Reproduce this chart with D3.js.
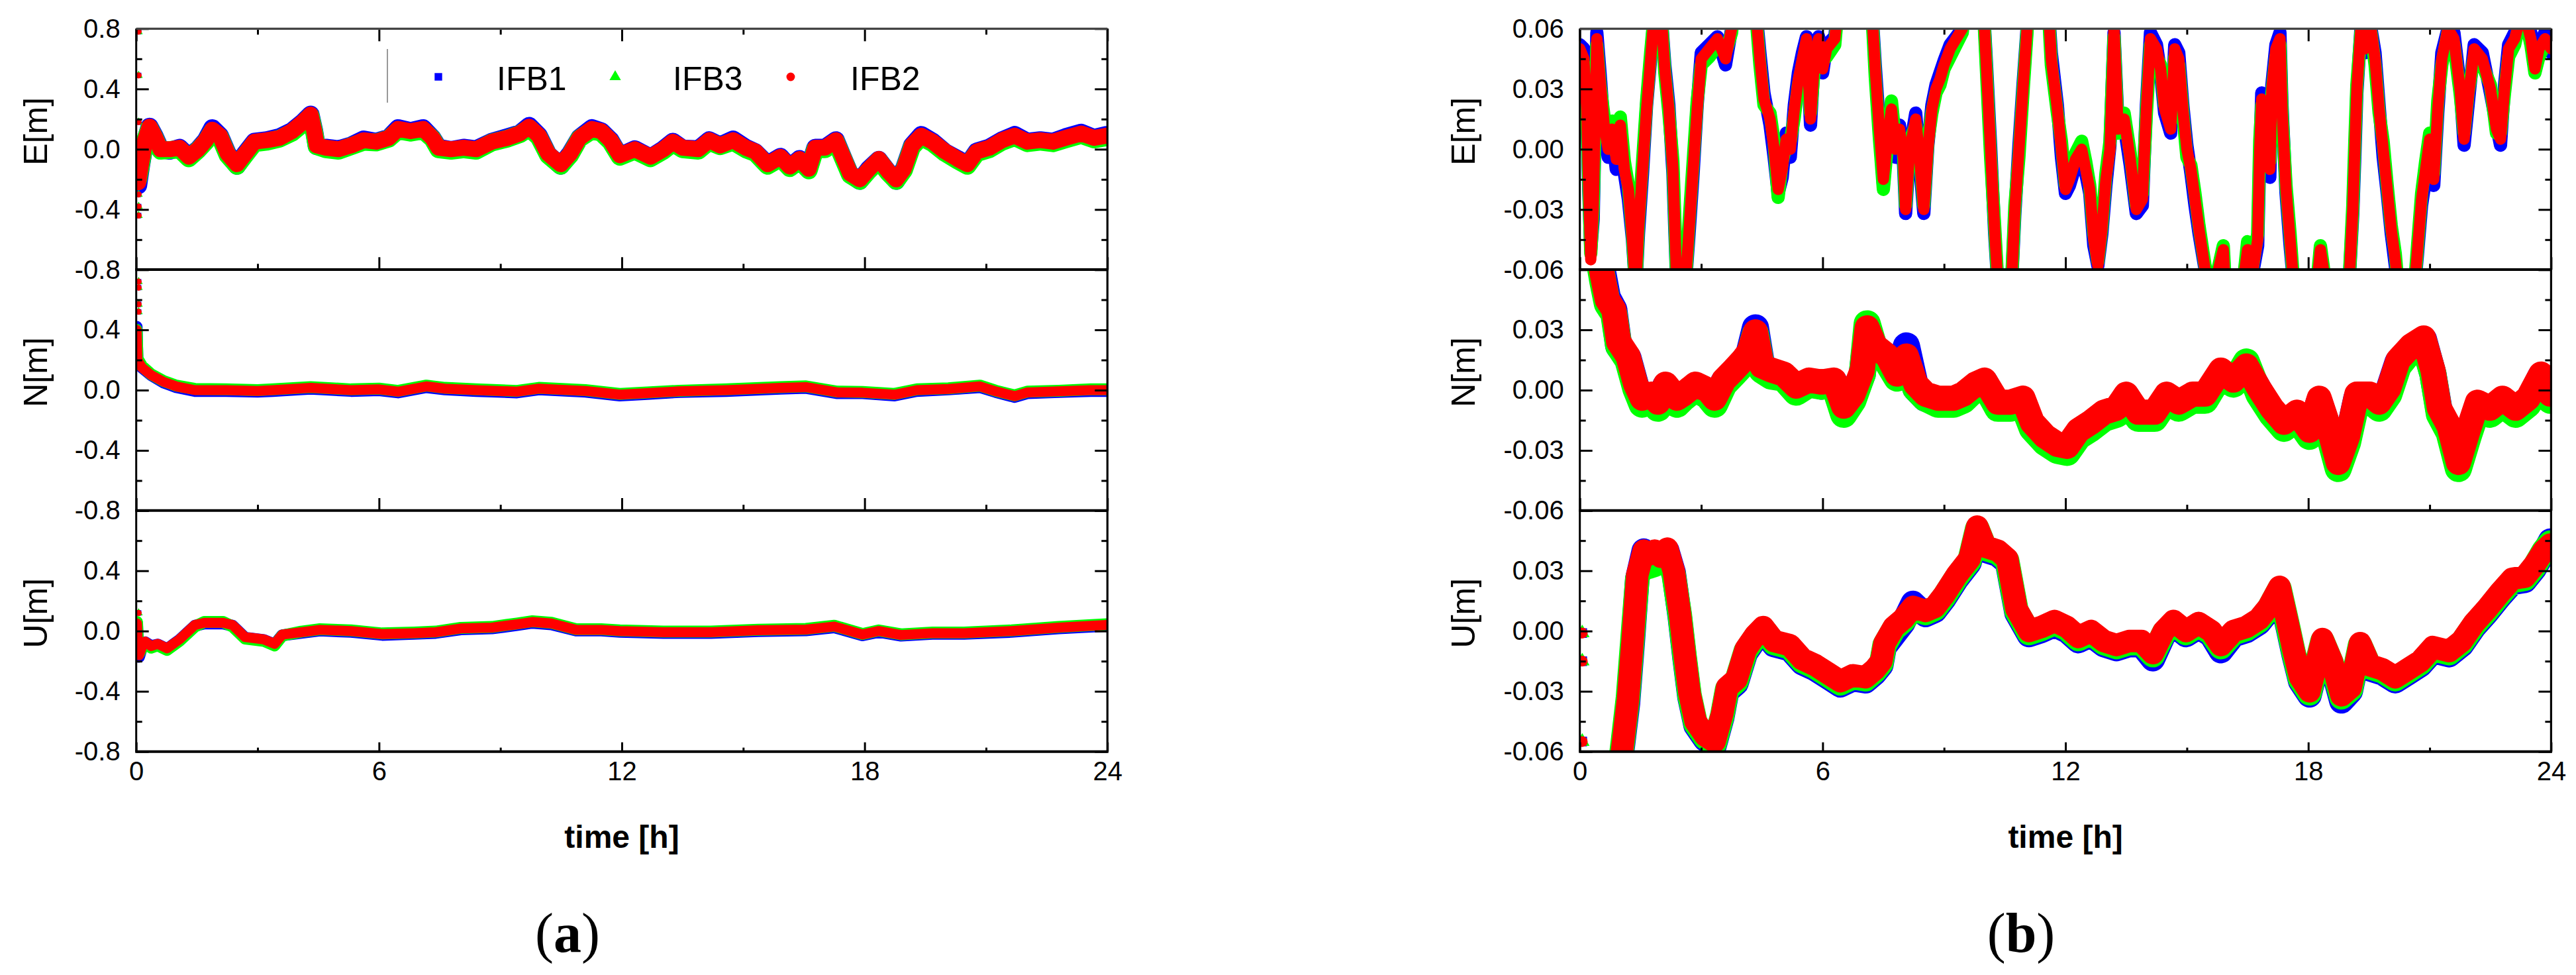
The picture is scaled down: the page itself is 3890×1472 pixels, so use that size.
<!DOCTYPE html>
<html><head><meta charset="utf-8">
<script src="https://cdn.jsdelivr.net/npm/d3@7"></script>
<style>html,body{margin:0;padding:0;background:#fff;overflow:hidden}</style>
</head><body>
<svg id="chart" width="3890" height="1472" xmlns="http://www.w3.org/2000/svg"></svg>
<script>
// ---------------- categories / ticks ----------------
const seriesNames = ["IFB1", "IFB3", "IFB2"];
const seriesColors = ["#0000ff", "#00ff00", "#ff0000"];
const compTitles = ["E[m]", "N[m]", "U[m]"];
const xMajorTicks = [0, 6, 12, 18, 24];
const xMinorTicks = [3, 9, 15, 21];
const aYTicks = [-0.8, -0.4, 0, 0.4, 0.8];
const aYMinor = [-0.6, -0.2, 0.2, 0.6];
const bYTicks = [-0.06, -0.03, 0, 0.03, 0.06];
const bYMinor = [-0.045, -0.015, 0.015, 0.045];
const panelLabels = ["a", "b"];
const xTitle = "time [h]";

// ---------------- (a) E ----------------
const aE_t = [
 0.05,0.12,0.22,0.33,0.45,0.6,0.83,1.07,1.3,1.53,
 1.72,1.88,2.07,2.26,2.49,2.69,2.92,3.23,3.54,3.85,
 4.12,4.31,4.4,4.46,4.69,5.0,5.31,5.62,5.93,6.24,
 6.47,6.78,7.09,7.32,7.47,7.78,8.09,8.4,8.79,9.17,
 9.48,9.71,9.95,10.18,10.49,10.72,10.95,11.26,11.49,11.72,
 11.95,12.32,12.71,13.03,13.26,13.5,13.89,14.16,14.43,14.75,
 15.06,15.3,15.6,15.92,16.15,16.39,16.62,16.78,17.02,17.29,
 17.49,17.64,17.88,18.11,18.35,18.58,18.78,18.97,19.17,19.4,
 19.68,19.99,20.3,20.54,20.77,21.08,21.4,21.71,22.02,22.34,
 22.65,22.96,23.35,23.67,23.98];
const aE_IFB2 = [
 -0.22,-0.1,0.06,0.15,0.09,0.0,0.0,0.01,-0.05,0.0,
 0.06,0.13,0.09,-0.03,-0.1,-0.03,0.05,0.06,0.075,0.12,
 0.18,0.23,0.12,0.025,0.01,0.0,0.025,0.06,0.05,0.075,
 0.135,0.12,0.135,0.075,0.01,0.0,0.01,0.0,0.05,0.075,
 0.105,0.15,0.09,-0.03,-0.1,-0.03,0.075,0.135,0.12,0.06,
 -0.04,0.0,-0.05,0.0,0.05,0.01,0.0,0.06,0.025,0.06,
 0.01,-0.015,-0.1,-0.05,-0.115,-0.065,-0.13,0.01,0.01,0.06,
 -0.065,-0.16,-0.2,-0.13,-0.065,-0.145,-0.2,-0.13,0.025,0.09,
 0.05,-0.015,-0.065,-0.1,-0.015,0.01,0.06,0.09,0.05,0.06,
 0.05,0.075,0.105,0.075,0.09];
const aE_IFB1 = [
 -0.24,-0.11,0.05,0.15,0.09,0.0,-0.01,0.01,-0.05,0.0,
 0.06,0.14,0.09,-0.03,-0.11,-0.03,0.05,0.06,0.08,0.12,
 0.18,0.23,0.12,0.02,0.01,0.0,0.025,0.065,0.05,0.075,
 0.14,0.12,0.14,0.075,0.01,-0.005,0.01,0.0,0.05,0.08,
 0.105,0.155,0.09,-0.035,-0.11,-0.03,0.075,0.14,0.12,0.06,
 -0.045,0.0,-0.055,0.0,0.05,0.005,0.0,0.06,0.025,0.065,
 0.01,-0.02,-0.1,-0.05,-0.12,-0.065,-0.13,0.01,0.01,0.06,
 -0.07,-0.165,-0.21,-0.13,-0.07,-0.15,-0.21,-0.13,0.025,0.095,
 0.05,-0.02,-0.065,-0.105,-0.015,0.01,0.06,0.095,0.05,0.06,
 0.05,0.08,0.11,0.075,0.095];
const aE_IFB3 = [
 -0.2,-0.1,0.06,0.14,0.08,-0.01,-0.005,0.0,-0.06,-0.005,
 0.05,0.12,0.08,-0.04,-0.11,-0.04,0.04,0.05,0.07,0.11,
 0.17,0.22,0.11,0.02,0.0,-0.01,0.02,0.05,0.045,0.07,
 0.125,0.11,0.125,0.07,0.0,-0.01,0.0,-0.01,0.045,0.07,
 0.1,0.14,0.08,-0.04,-0.11,-0.04,0.07,0.125,0.11,0.05,
 -0.05,-0.01,-0.06,-0.01,0.04,0.0,-0.01,0.05,0.02,0.05,
 0.0,-0.025,-0.11,-0.06,-0.125,-0.075,-0.14,0.0,0.0,0.05,
 -0.075,-0.17,-0.21,-0.14,-0.075,-0.155,-0.21,-0.14,0.015,0.08,
 0.04,-0.025,-0.075,-0.11,-0.025,0.0,0.05,0.08,0.04,0.05,
 0.04,0.065,0.095,0.065,0.08];
const aE_start = [0.78, 0.49, 0.18, -0.3, -0.38, -0.44];

// ---------------- (a) N ----------------
const aN_t = [
 0.01,0.03,0.14,0.37,0.68,0.99,1.45,2.22,3.0,3.38,
 4.31,5.31,6.0,6.47,7.17,7.63,8.4,9.41,9.95,11.1,
 11.95,12.63,13.42,14.59,15.92,16.55,17.33,17.95,18.74,19.29,
 20.07,20.85,21.24,21.71,22.02,22.8,23.59,23.98];
const aN_IFB2 = [
 0.4,0.2,0.15,0.1,0.055,0.025,0.0,0.0,-0.005,0.0,
 0.015,0.0,0.005,-0.01,0.025,0.01,0.0,-0.01,0.01,-0.005,
 -0.03,-0.02,-0.008,0.0,0.015,0.02,-0.015,-0.017,-0.03,0.0,
 0.008,0.025,-0.008,-0.04,-0.015,-0.008,0.0,0.0];
const aN_IFB1 = [
 0.42,0.2,0.15,0.1,0.05,0.02,-0.005,-0.005,-0.01,-0.005,
 0.01,-0.005,0.0,-0.015,0.02,0.005,-0.005,-0.015,0.005,-0.01,
 -0.035,-0.025,-0.012,-0.005,0.01,0.015,-0.02,-0.02,-0.035,-0.005,
 0.005,0.02,-0.012,-0.045,-0.02,-0.012,-0.005,-0.005];
const aN_IFB3 = [
 0.4,0.21,0.16,0.105,0.06,0.03,0.008,0.005,0.0,0.005,
 0.02,0.005,0.01,-0.005,0.03,0.015,0.005,-0.005,0.015,0.0,
 -0.025,-0.015,-0.004,0.005,0.02,0.025,-0.01,-0.012,-0.025,0.005,
 0.012,0.03,-0.004,-0.035,-0.01,-0.004,0.005,0.005];
const aN_start = [0.72, 0.68, 0.57, 0.52];

// ---------------- (a) U ----------------
const aU_t = [
 0.02,0.04,0.07,0.15,0.22,0.37,0.53,0.76,1.07,1.45,
 1.68,2.15,2.38,2.69,3.15,3.42,3.61,4.08,4.54,5.31,
 6.08,6.86,7.4,8.02,8.79,9.41,9.79,10.26,10.87,11.49,
 11.95,13.03,14.2,15.37,16.55,17.25,17.95,18.35,18.9,19.68,
 20.46,21.63,22.8,23.98];
const aU_IFB2 = [
 0.05,-0.08,-0.16,-0.1,-0.07,-0.1,-0.085,-0.115,-0.055,0.04,
 0.055,0.055,0.04,-0.04,-0.055,-0.085,-0.023,-0.008,0.008,0.0,
 -0.02,-0.014,-0.008,0.017,0.023,0.045,0.06,0.05,0.008,0.008,
 0.0,-0.008,-0.008,0.005,0.01,0.03,-0.023,0.0,-0.026,-0.014,
 -0.014,0.0,0.023,0.04];
const aU_IFB1 = [
 0.05,-0.09,-0.17,-0.1,-0.075,-0.1,-0.09,-0.12,-0.06,0.035,
 0.05,0.05,0.035,-0.045,-0.06,-0.09,-0.028,-0.012,0.004,-0.005,
 -0.025,-0.018,-0.012,0.012,0.018,0.04,0.055,0.045,0.004,0.004,
 -0.005,-0.012,-0.012,0.0,0.005,0.025,-0.028,-0.005,-0.03,-0.018,
 -0.018,-0.005,0.018,0.035];
const aU_IFB3 = [
 0.06,-0.08,-0.15,-0.11,-0.08,-0.11,-0.095,-0.125,-0.065,0.03,
 0.06,0.06,0.03,-0.05,-0.065,-0.095,-0.03,-0.004,0.012,0.004,
 -0.016,-0.01,-0.004,0.021,0.027,0.05,0.065,0.055,0.012,0.012,
 0.004,-0.004,-0.004,0.009,0.014,0.035,-0.02,0.004,-0.022,-0.01,
 -0.01,0.004,0.027,0.045];
const aU_start = [0.12, 0.02];

// ---------------- (b) E ----------------
const bE_t = [
 0.0,0.1,0.17,0.22,0.27,0.33,0.42,0.5,0.6,0.7,
 0.8,0.9,1.0,1.1,1.2,1.3,1.38,1.45,1.55,1.65,
 1.75,1.85,2.0,2.1,2.2,2.3,2.35,2.4,2.6,2.7,
 2.8,2.9,3.0,3.2,3.4,3.6,3.75,3.85,4.3,4.45,
 4.55,4.7,4.8,4.9,5.0,5.1,5.2,5.3,5.4,5.5,
 5.6,5.7,5.8,5.9,6.0,6.1,6.3,6.4,7.2,7.3,
 7.4,7.5,7.6,7.7,7.8,7.9,8.0,8.05,8.15,8.3,
 8.4,8.5,8.6,8.7,8.8,8.9,9.0,9.15,9.3,9.45,
 9.55,9.95,10.05,10.15,10.25,10.35,10.65,10.75,10.85,10.95,
 11.05,11.1,11.55,11.65,11.8,11.9,12.0,12.1,12.25,12.4,
 12.5,12.6,12.7,12.8,12.9,13.0,13.1,13.2,13.3,13.45,
 13.6,13.75,13.9,14.0,14.1,14.25,14.35,14.45,14.6,14.7,
 14.8,14.9,15.0,15.1,15.2,15.3,15.45,15.6,15.9,15.95,
 16.4,16.5,16.55,16.75,16.8,16.85,16.95,17.05,17.1,17.2,
 17.3,17.35,17.45,17.55,17.65,18.2,18.3,18.45,19.0,19.1,
 19.15,19.2,19.3,19.4,19.55,19.65,19.75,19.85,19.95,20.05,
 20.15,20.25,20.6,20.7,20.8,20.9,21.0,21.1,21.2,21.3,
 21.45,21.6,21.75,21.85,21.95,22.1,22.3,22.5,22.65,22.75,
 22.85,22.95,23.1,23.3,23.5,23.6,23.7,23.85,24.0];
const bE_IFB2 = [
 0.05,0.045,0.02,-0.02,-0.055,-0.03,0.055,0.035,0.012,0.0,
 0.01,-0.005,0.012,-0.01,-0.02,-0.045,-0.07,-0.04,-0.01,0.02,
 0.045,0.07,0.07,0.04,0.02,-0.01,-0.04,-0.07,-0.07,-0.04,
 -0.01,0.02,0.045,0.05,0.055,0.045,0.06,0.08,0.08,0.045,
 0.025,0.015,0.0,-0.02,-0.01,0.005,0.0,0.02,0.035,0.045,
 0.055,0.015,0.045,0.055,0.04,0.05,0.055,0.075,0.075,0.04,
 0.01,-0.015,0.005,0.02,0.0,0.01,-0.005,-0.03,0.0,0.015,
 -0.005,-0.03,0.0,0.02,0.03,0.035,0.042,0.05,0.055,0.06,
 0.08,0.08,0.04,0.0,-0.04,-0.075,-0.075,-0.03,0.0,0.03,
 0.06,0.08,0.08,0.045,0.02,0.0,-0.02,-0.015,-0.005,0.0,
 -0.01,-0.02,-0.045,-0.058,-0.04,-0.015,0.0,0.06,0.01,0.015,
 -0.005,-0.03,-0.025,0.02,0.055,0.05,0.04,0.02,0.01,0.05,
 0.045,0.02,0.0,-0.01,-0.025,-0.04,-0.06,-0.075,-0.05,-0.07,
 -0.065,-0.05,-0.07,-0.045,0.0,0.025,0.01,-0.01,0.03,0.05,
 0.055,0.02,-0.02,-0.045,-0.07,-0.07,-0.05,-0.07,-0.07,-0.03,
 0.0,0.03,0.06,0.05,0.06,0.045,0.02,0.0,-0.02,-0.04,
 -0.055,-0.075,-0.075,-0.05,-0.025,-0.01,0.005,-0.015,0.02,0.045,
 0.06,0.055,0.03,0.005,0.025,0.05,0.045,0.03,0.01,0.005,
 0.03,0.05,0.055,0.07,0.055,0.04,0.05,0.055,0.05];
const bE_IFB1 = [
 0.052,0.05,0.02,-0.02,-0.05,-0.035,0.058,0.038,0.01,-0.004,
 0.008,-0.01,0.01,-0.012,-0.025,-0.045,-0.07,-0.042,-0.012,0.022,
 0.045,0.07,0.07,0.042,0.022,-0.012,-0.042,-0.07,-0.07,-0.042,
 -0.012,0.022,0.048,0.052,0.056,0.042,0.06,0.08,0.08,0.048,
 0.028,0.012,-0.004,-0.022,-0.014,0.008,-0.004,0.022,0.038,0.048,
 0.056,0.012,0.048,0.056,0.038,0.052,0.056,0.075,0.075,0.042,
 0.012,-0.018,0.008,0.018,-0.004,0.012,-0.008,-0.032,0.0,0.018,
 -0.008,-0.032,0.002,0.022,0.032,0.038,0.044,0.052,0.056,0.06,
 0.08,0.08,0.042,0.002,-0.042,-0.075,-0.075,-0.032,0.002,0.032,
 0.06,0.08,0.08,0.048,0.022,-0.004,-0.022,-0.018,-0.008,-0.004,
 -0.012,-0.022,-0.048,-0.058,-0.042,-0.018,0.002,0.058,0.012,0.012,
 -0.008,-0.032,-0.028,0.022,0.058,0.052,0.038,0.018,0.008,0.052,
 0.048,0.022,0.002,-0.012,-0.028,-0.042,-0.06,-0.075,-0.052,-0.07,
 -0.065,-0.052,-0.07,-0.048,-0.004,0.028,0.012,-0.014,0.032,0.052,
 0.058,0.022,-0.022,-0.048,-0.07,-0.07,-0.052,-0.07,-0.07,-0.032,
 -0.004,0.028,0.06,0.048,0.06,0.048,0.022,-0.004,-0.022,-0.042,
 -0.058,-0.075,-0.075,-0.052,-0.028,-0.014,0.002,-0.018,0.018,0.048,
 0.06,0.058,0.032,0.002,0.022,0.052,0.048,0.028,0.012,0.002,
 0.032,0.052,0.058,0.07,0.058,0.042,0.052,0.058,0.048];
const bE_IFB3 = [
 0.048,0.042,0.024,-0.016,-0.052,-0.028,0.052,0.032,0.016,0.004,
 0.014,-0.002,0.016,-0.006,-0.018,-0.042,-0.07,-0.036,-0.006,0.024,
 0.048,0.07,0.07,0.038,0.018,-0.006,-0.036,-0.07,-0.07,-0.036,
 -0.006,0.024,0.042,0.046,0.052,0.048,0.058,0.08,0.08,0.042,
 0.022,0.018,0.004,-0.024,-0.006,0.002,0.004,0.016,0.032,0.042,
 0.052,0.018,0.042,0.052,0.044,0.046,0.052,0.075,0.075,0.036,
 0.006,-0.02,0.002,0.024,0.004,0.006,-0.002,-0.028,0.004,0.012,
 -0.002,-0.028,0.004,0.018,0.028,0.032,0.04,0.046,0.052,0.058,
 0.08,0.08,0.038,-0.004,-0.038,-0.075,-0.075,-0.028,-0.004,0.028,
 0.058,0.08,0.08,0.042,0.018,0.004,-0.018,-0.012,-0.002,0.004,
 -0.006,-0.018,-0.042,-0.056,-0.038,-0.012,0.004,0.056,0.008,0.018,
 -0.002,-0.028,-0.022,0.018,0.052,0.046,0.042,0.022,0.014,0.046,
 0.042,0.018,-0.004,-0.008,-0.022,-0.038,-0.058,-0.075,-0.048,-0.068,
 -0.065,-0.046,-0.068,-0.042,0.004,0.022,0.008,-0.006,0.028,0.046,
 0.052,0.018,-0.018,-0.042,-0.07,-0.07,-0.048,-0.07,-0.07,-0.028,
 0.004,0.032,0.058,0.052,0.058,0.042,0.018,0.004,-0.018,-0.038,
 -0.052,-0.075,-0.075,-0.048,-0.022,-0.006,0.008,-0.012,0.024,0.042,
 0.058,0.052,0.028,0.008,0.028,0.046,0.042,0.032,0.008,0.008,
 0.028,0.046,0.052,0.07,0.052,0.038,0.046,0.052,0.052];
const bE_start = [];

// ---------------- (b) N ----------------
const bN_t = [
 0.4,0.57,0.68,0.84,0.96,1.19,1.38,1.54,1.77,1.93,
 2.12,2.4,2.55,2.86,3.17,3.33,3.56,3.8,4.03,4.18,
 4.34,4.5,4.73,5.04,5.35,5.66,5.97,6.28,6.52,6.75,
 6.98,7.1,7.29,7.6,7.84,8.07,8.3,8.54,8.85,9.24,
 9.47,9.78,10.0,10.33,10.64,10.95,11.18,11.5,11.8,12.04,
 12.32,12.63,12.95,13.26,13.5,13.8,14.2,14.5,14.8,15.14,
 15.45,15.84,16.15,16.47,16.78,17.1,17.4,17.72,18.03,18.27,
 18.5,18.74,18.97,19.2,19.52,19.75,19.99,20.22,20.54,20.85,
 21.08,21.24,21.48,21.71,21.95,22.18,22.49,22.8,23.12,23.43,
 23.75,23.98];
const bN_IFB2 = [
 0.075,0.056,0.045,0.04,0.024,0.017,0.003,-0.004,-0.002,-0.006,
 0.003,-0.004,-0.002,0.003,0.0,-0.004,0.005,0.01,0.015,0.019,
 0.029,0.012,0.01,0.008,0.002,0.005,0.004,0.005,-0.008,-0.002,
 0.01,0.031,0.022,0.017,0.008,0.017,0.003,-0.002,-0.004,-0.004,
 -0.002,0.003,0.005,-0.006,-0.006,-0.004,-0.016,-0.023,-0.027,-0.028,
 -0.02,-0.016,-0.011,-0.009,-0.002,-0.011,-0.011,-0.002,-0.006,-0.002,
 -0.002,0.01,0.005,0.012,0.001,-0.009,-0.016,-0.011,-0.02,-0.004,
 -0.018,-0.036,-0.023,-0.002,-0.002,-0.006,0.001,0.015,0.022,0.026,
 0.01,-0.009,-0.018,-0.036,-0.02,-0.006,-0.009,-0.004,-0.009,-0.004,
 0.008,-0.002];
const bN_IFB1 = [
 0.075,0.058,0.046,0.04,0.022,0.016,0.002,-0.006,-0.003,-0.008,
 0.002,-0.006,-0.003,0.002,-0.002,-0.006,0.004,0.009,0.014,0.018,
 0.031,0.011,0.008,0.007,0.0,0.004,0.002,0.004,-0.01,-0.004,
 0.008,0.03,0.021,0.015,0.007,0.022,0.001,-0.004,-0.006,-0.006,
 -0.004,0.002,0.004,-0.008,-0.008,-0.006,-0.018,-0.025,-0.029,-0.03,
 -0.022,-0.018,-0.013,-0.011,-0.003,-0.013,-0.013,-0.004,-0.008,-0.004,
 -0.004,0.008,0.004,0.011,0.0,-0.011,-0.018,-0.013,-0.022,-0.006,
 -0.02,-0.038,-0.025,-0.004,-0.004,-0.008,0.0,0.014,0.021,0.025,
 0.008,-0.011,-0.02,-0.038,-0.022,-0.008,-0.011,-0.006,-0.011,-0.006,
 0.007,-0.004];
const bN_IFB3 = [
 0.074,0.054,0.043,0.038,0.022,0.015,0.001,-0.007,-0.004,-0.009,
 0.001,-0.007,-0.004,0.001,-0.003,-0.007,0.003,0.008,0.013,0.017,
 0.028,0.01,0.007,0.006,-0.001,0.003,0.002,0.003,-0.012,-0.005,
 0.008,0.033,0.02,0.014,0.006,0.015,0.001,-0.004,-0.007,-0.007,
 -0.005,0.001,0.003,-0.009,-0.009,-0.007,-0.019,-0.026,-0.03,-0.031,
 -0.023,-0.019,-0.014,-0.012,-0.004,-0.014,-0.014,-0.005,-0.009,-0.005,
 -0.005,0.008,0.003,0.014,-0.002,-0.012,-0.019,-0.014,-0.023,-0.007,
 -0.021,-0.039,-0.026,-0.005,-0.005,-0.009,-0.002,0.012,0.02,0.024,
 0.008,-0.012,-0.021,-0.039,-0.023,-0.009,-0.012,-0.007,-0.012,-0.007,
 0.006,-0.005];
const bN_start = [];

// ---------------- (b) U ----------------
const bU_t = [
 0.95,1.07,1.19,1.31,1.42,1.58,1.7,1.85,2.0,2.16,
 2.32,2.47,2.59,2.71,2.86,3.1,3.33,3.52,3.64,3.87,
 4.1,4.34,4.53,4.8,5.19,5.5,5.82,6.13,6.44,6.75,
 7.06,7.29,7.45,7.53,7.76,7.99,8.23,8.54,8.77,9.0,
 9.32,9.63,9.82,10.02,10.33,10.56,10.79,11.1,11.4,11.73,
 12.04,12.32,12.63,12.95,13.26,13.57,13.88,14.16,14.43,14.67,
 14.98,15.29,15.6,15.84,16.15,16.47,16.78,17.02,17.29,17.49,
 17.64,17.8,18.03,18.19,18.35,18.58,18.82,19.05,19.28,19.52,
 19.83,20.15,20.46,20.77,21.08,21.48,21.79,22.1,22.41,22.73,
 23.04,23.35,23.59,23.82,23.98];
const bU_IFB2 = [
 -0.075,-0.055,-0.034,-0.003,0.028,0.04,0.038,0.04,0.037,0.041,
 0.03,0.009,-0.012,-0.031,-0.045,-0.052,-0.055,-0.041,-0.028,-0.024,
 -0.009,-0.002,0.002,-0.005,-0.007,-0.014,-0.017,-0.021,-0.025,-0.022,
 -0.023,-0.019,-0.015,-0.006,0.002,0.006,0.012,0.01,0.012,0.018,
 0.028,0.036,0.052,0.042,0.04,0.036,0.011,0.0,0.002,0.005,
 0.002,-0.003,0.0,-0.005,-0.007,-0.005,-0.005,-0.011,0.0,0.005,
 0.0,0.004,0.0,-0.007,0.0,0.002,0.006,0.012,0.022,0.004,
 -0.01,-0.023,-0.03,-0.017,-0.004,-0.015,-0.032,-0.028,-0.006,-0.017,
 -0.019,-0.023,-0.019,-0.015,-0.008,-0.01,-0.005,0.004,0.011,0.019,
 0.026,0.027,0.033,0.04,0.043];
const bU_IFB1 = [
 -0.075,-0.056,-0.036,-0.005,0.026,0.04,0.038,0.039,0.036,0.04,
 0.029,0.007,-0.014,-0.033,-0.047,-0.054,-0.057,-0.043,-0.03,-0.026,
 -0.011,-0.004,0.0,-0.007,-0.009,-0.016,-0.019,-0.023,-0.027,-0.024,
 -0.025,-0.021,-0.017,-0.008,-0.002,0.004,0.014,0.008,0.01,0.016,
 0.026,0.034,0.05,0.04,0.038,0.034,0.009,-0.002,0.0,0.003,
 0.0,-0.005,-0.002,-0.007,-0.009,-0.007,-0.007,-0.014,-0.002,0.003,
 -0.002,0.002,-0.002,-0.01,-0.002,0.0,0.004,0.01,0.02,0.002,
 -0.012,-0.025,-0.032,-0.019,-0.006,-0.017,-0.035,-0.03,-0.008,-0.019,
 -0.021,-0.025,-0.021,-0.017,-0.01,-0.012,-0.007,0.002,0.009,0.017,
 0.024,0.025,0.031,0.039,0.045];
const bU_IFB3 = [
 -0.074,-0.054,-0.033,-0.002,0.026,0.036,0.032,0.033,0.035,0.038,
 0.028,0.008,-0.013,-0.032,-0.046,-0.053,-0.056,-0.042,-0.029,-0.025,
 -0.01,-0.003,0.001,-0.006,-0.008,-0.015,-0.018,-0.022,-0.026,-0.023,
 -0.024,-0.02,-0.016,-0.007,0.001,0.005,0.011,0.009,0.011,0.017,
 0.027,0.035,0.051,0.041,0.039,0.035,0.01,-0.001,0.001,0.004,
 0.001,-0.004,-0.001,-0.006,-0.008,-0.006,-0.006,-0.012,-0.001,0.004,
 -0.001,0.003,-0.001,-0.008,-0.001,0.001,0.005,0.011,0.021,0.003,
 -0.011,-0.024,-0.031,-0.018,-0.005,-0.016,-0.033,-0.029,-0.007,-0.018,
 -0.02,-0.024,-0.02,-0.016,-0.009,-0.011,-0.006,0.003,0.01,0.018,
 0.025,0.026,0.032,0.04,0.044];
const bU_start = [-0.001, -0.015, -0.055];

// ---------------- assemble ----------------
const figures = [
  { key: "a", x0: 205.7, x1: 1672.3, domain: [-0.8, 0.8], ticks: aYTicks, minor: aYMinor,
    fmt: d => d.toFixed(1), titleX: 71, labelX: 857,
    widths: [24, 15, 15], markerArea: 30,
    comps: [
      { t: aE_t, s: [aE_IFB1, aE_IFB3, aE_IFB2], start: aE_start },
      { t: aN_t, s: [aN_IFB1, aN_IFB3, aN_IFB2], start: aN_start },
      { t: aU_t, s: [aU_IFB1, aU_IFB3, aU_IFB2], start: aU_start } ] },
  { key: "b", x0: 2385.7, x1: 3852.4, domain: [-0.06, 0.06], ticks: bYTicks, minor: bYMinor,
    fmt: d => d.toFixed(2), titleX: 2227, labelX: 3052,
    widths: [17, 38, 34], markerArea: 95,
    comps: [
      { t: bE_t, s: [bE_IFB1, bE_IFB3, bE_IFB2], start: bE_start },
      { t: bN_t, s: [bN_IFB1, bN_IFB3, bN_IFB2], start: bN_start },
      { t: bU_t, s: [bU_IFB1, bU_IFB3, bU_IFB2], start: bU_start } ] }
];

const panelTops = [43.3, 407, 770.7];
const panelH = 364;
const FONT = "'Liberation Sans', Arial, Helvetica, sans-serif";
const symbols = [d3.symbolSquare, d3.symbolTriangle, d3.symbolCircle];

const svg = d3.select("#chart");
svg.append("rect").attr("width", 3890).attr("height", 1472).attr("fill", "#fff");
const defs = svg.append("defs");

function styleAxis(g) {
  g.select(".domain").remove();
  g.attr("font-family", FONT).attr("font-size", 40);
  g.selectAll(".tick line").attr("stroke", "#000").attr("stroke-width", 3);
  g.selectAll(".tick text").attr("fill", "#000");
}

figures.forEach(fig => {
  const w = fig.x1 - fig.x0;
  const x = d3.scaleLinear().domain([0, 24]).range([0, w]);
  const y = d3.scaleLinear().domain(fig.domain).range([panelH, 0]);

  fig.comps.forEach((comp, ci) => {
    const top = panelTops[ci];
    const g = svg.append("g").attr("transform", `translate(${fig.x0},${top})`);
    const clipId = `clip-${fig.key}${ci}`;
    defs.append("clipPath").attr("id", clipId)
      .append("rect").attr("x", 0).attr("y", 0).attr("width", w).attr("height", panelH);

    const plot = g.append("g").attr("clip-path", `url(#${clipId})`);
    const baseW = fig.widths[ci];
    const extra = [3, 3, 0];

    comp.s.forEach((vals, si) => {
      const n = Math.min(comp.t.length, vals.length);
      const pts = d3.range(n).map(k => [comp.t[k], vals[k]]);
      const line = d3.line().x(d => x(d[0])).y(d => y(d[1]));
      plot.append("path").datum(pts)
        .attr("d", line)
        .attr("fill", "none")
        .attr("stroke", seriesColors[si])
        .attr("stroke-width", baseW + extra[si])
        .attr("stroke-linejoin", "round")
        .attr("stroke-linecap", "round");
      const sym = d3.symbol().type(symbols[si]).size(fig.markerArea);
      plot.append("g").selectAll("path").data(pts).join("path")
        .attr("d", sym)
        .attr("fill", seriesColors[si])
        .attr("transform", d => `translate(${x(d[0])},${y(d[1])})`);
      const sym2 = d3.symbol().type(symbols[si]).size(fig.markerArea * 2.2);
      plot.append("g").selectAll("path").data(comp.start).join("path")
        .attr("d", sym2)
        .attr("fill", seriesColors[si])
        .attr("transform", d => `translate(${x(0.06)},${y(d)})`);
    });

    // axes (inward ticks)
    g.append("g").call(d3.axisLeft(y).tickValues(fig.ticks).tickSize(-19).tickPadding(24)
        .tickFormat(d => (ci > 0 && d === fig.domain[1]) ? "" : fig.fmt(d))).call(styleAxis);
    g.append("g").call(d3.axisLeft(y).tickValues(fig.minor).tickSize(-9).tickFormat(() => "")).call(styleAxis);
    g.append("g").attr("transform", `translate(${w},0)`)
      .call(d3.axisRight(y).tickValues(fig.ticks).tickSize(-19).tickFormat(() => "")).call(styleAxis);
    g.append("g").attr("transform", `translate(${w},0)`)
      .call(d3.axisRight(y).tickValues(fig.minor).tickSize(-9).tickFormat(() => "")).call(styleAxis);
    const last = ci === 2;
    g.append("g").attr("transform", `translate(0,${panelH})`)
      .call(d3.axisBottom(x).tickValues(xMajorTicks).tickSize(last ? -14 : -19).tickPadding(15)
        .tickFormat(d => last ? String(d) : "")).call(styleAxis);
    g.append("g").attr("transform", `translate(0,${panelH})`)
      .call(d3.axisBottom(x).tickValues(xMinorTicks).tickSize(last ? -6 : -9).tickFormat(() => "")).call(styleAxis);
    if (ci === 0) {
      g.append("g").call(d3.axisTop(x).tickValues(xMajorTicks).tickSize(-19).tickFormat(() => "")).call(styleAxis);
      g.append("g").call(d3.axisTop(x).tickValues(xMinorTicks).tickSize(-9).tickFormat(() => "")).call(styleAxis);
    }

    // title
    svg.append("text")
      .attr("transform", `translate(${fig.titleX},${top + panelH / 2 - 27}) rotate(-90)`)
      .attr("text-anchor", "middle")
      .attr("font-family", FONT).attr("font-size", 50).attr("fill", "#000")
      .text(compTitles[ci]);
  });

  // frame
  const fr = svg.append("g");
  const yTop = panelTops[0], yBot = panelTops[2] + panelH;
  fr.append("line").attr("x1", fig.x0).attr("x2", fig.x0).attr("y1", yTop).attr("y2", yBot)
    .attr("stroke", "#000").attr("stroke-width", 3);
  fr.append("line").attr("x1", fig.x1).attr("x2", fig.x1).attr("y1", yTop).attr("y2", yBot)
    .attr("stroke", "#000").attr("stroke-width", 3.2);
  fr.append("line").attr("x1", fig.x0).attr("x2", fig.x1).attr("y1", yTop).attr("y2", yTop)
    .attr("stroke", "#444").attr("stroke-width", 3.2);
  [panelTops[1], panelTops[2], yBot].forEach(yy => {
    fr.append("line").attr("x1", fig.x0 - 1.5).attr("x2", fig.x1 + 1.6).attr("y1", yy).attr("y2", yy)
      .attr("stroke", "#000").attr("stroke-width", 4);
  });

  // x title
  svg.append("text").attr("x", (fig.x0 + fig.x1) / 2).attr("y", 1280)
    .attr("text-anchor", "middle").attr("font-family", FONT).attr("font-size", 48)
    .attr("font-weight", "bold").attr("fill", "#000").text(xTitle);

  // panel label
  const lab = svg.append("text").attr("x", fig.labelX).attr("y", 1437)
    .attr("text-anchor", "middle").attr("font-family", "'Liberation Serif', 'Times New Roman', serif")
    .attr("font-size", 84).attr("fill", "#000");
  lab.append("tspan").text("(");
  lab.append("tspan").attr("font-weight", "bold").text(fig.key);
  lab.append("tspan").text(")");
});

// legend (in panel a, E)
const leg = svg.append("g");
leg.append("line").attr("x1", 585).attr("x2", 585).attr("y1", 74).attr("y2", 155)
  .attr("stroke", "#999").attr("stroke-width", 2);
const legMarkX = [662, 929, 1194];
const legTextX = [750, 1016, 1284];
seriesNames.forEach((name, i) => {
  leg.append("path").attr("d", d3.symbol().type(symbols[i]).size(130))
    .attr("fill", seriesColors[i]).attr("transform", `translate(${legMarkX[i]},116)`);
  leg.append("text").attr("x", legTextX[i]).attr("y", 136)
    .attr("font-family", FONT).attr("font-size", 50).attr("fill", "#000").text(name);
});
</script>
</body></html>
